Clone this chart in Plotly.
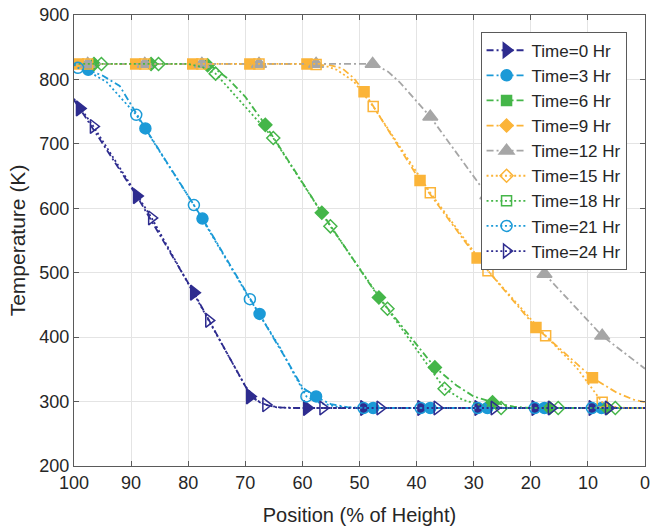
import plotly.graph_objects as go

# ---- temperature profiles along the bed (position in % of height, temperature in K) ----
# *_line_x / *_line_T : points tracing each profile curve
# *_mark_x / *_mark_T : the symbol positions on each curve
labels = ["Time=0 Hr", "Time=3 Hr", "Time=6 Hr", "Time=9 Hr", "Time=12 Hr",
          "Time=15 Hr", "Time=18 Hr", "Time=21 Hr", "Time=24 Hr"]

t0_line_x = [100, 99, 89, 79, 74, 71, 69, 67.5, 66, 64, 61, 0]
t0_line_T = [768, 755, 619, 469, 388, 339, 308, 299, 294, 291, 290, 290]
t0_mark_x = [99, 89, 79, 69.2, 59.2, 49.2, 39.2, 29.2, 19.2, 9.2]
t0_mark_T = [755, 619, 469, 308, 290, 290, 290, 290, 290, 290]

t3_line_x = [100, 97.5, 95, 92, 87.5, 77.5, 67.5, 63, 60, 57.6, 55, 52, 48, 0]
t3_line_T = [823, 815, 806, 790, 724, 584, 436, 368, 322, 307, 296, 291, 290, 290]
t3_mark_x = [97.5, 87.5, 77.5, 67.5, 57.6, 47.6, 37.6, 27.6, 17.6, 7.6]
t3_mark_T = [815, 724, 584, 436, 308, 290, 290, 290, 290, 290]

t6_line_x = [100, 78, 75.5, 73, 70, 66.5, 56.6, 46.6, 36.8, 33, 30, 26.7, 23, 20, 0]
t6_line_T = [824, 824, 818, 801, 773, 729.5, 593, 461.5, 353, 325, 308, 299, 292, 290, 290]
t6_mark_x = [96.5, 86.5, 76.6, 66.5, 56.6, 46.6, 36.8, 26.7, 16.7, 6.7]
t6_mark_T = [824, 824, 822, 729.5, 593, 461.5, 353, 299, 290, 290]

t9_line_x = [100, 56, 53, 51, 49.2, 39.4, 29.4, 19.1, 9.2, 5, 2, 0]
t9_line_T = [824, 824, 817, 802, 781, 643, 523, 415, 337, 314, 303, 299]
t9_mark_x = [99.2, 89.2, 79.2, 69.2, 59.2, 49.2, 39.4, 29.4, 19.1, 9.2]
t9_mark_T = [824, 824, 824, 824, 824, 781, 643, 523, 415, 337]

t12_line_x = [100, 47.5, 45, 43, 41.7, 37.6, 27.6, 17.6, 7.5, 0]
t12_line_T = [824, 824, 812, 796, 783, 742, 620, 498, 402, 351]
t12_mark_x = [97.6, 87.6, 77.6, 67.6, 57.6, 47.7, 37.6, 27.6, 17.6, 7.5]
t12_mark_T = [824, 824, 824, 824, 824, 824, 742, 620, 498, 402]

t15_line_x = [100, 57, 54, 51, 47.6, 37.6, 27.5, 17.4, 12, 9.5, 7.5, 5.5, 3, 0]
t15_line_T = [824, 824, 815, 797, 758, 624, 503, 402, 353, 322, 299, 292, 290, 290]
t15_mark_x = [97.6, 87.6, 77.6, 67.6, 57.6, 47.6, 37.6, 27.5, 17.4, 7.5]
t15_mark_T = [824, 824, 824, 824, 823, 758, 624, 503, 402, 299]

t18_line_x = [100, 80, 77.5, 75.2, 65.1, 55.1, 45.1, 40, 35.1, 32, 29, 26, 23, 0]
t18_line_T = [824, 824, 819, 809, 709, 572, 444, 380, 320, 303, 295, 291, 290, 290]
t18_mark_x = [95.2, 85.2, 75.2, 65.1, 55.1, 45.1, 35.1, 25.2, 15.2, 5.2]
t18_mark_T = [824, 824, 809, 709, 572, 444, 320, 290, 290, 290]

t21_line_x = [100, 99.3, 97, 94.3, 89.1, 79, 69.2, 64, 61, 59.3, 57, 54, 50, 0]
t21_line_T = [823, 818, 810, 796, 745, 605, 459, 385, 335, 308, 298, 292, 290, 290]
t21_mark_x = [99.3, 89.1, 79, 69.2, 59.3, 49.3, 39.3, 29.3, 19.3, 9.3]
t21_mark_T = [818, 745, 605, 459, 308, 290, 290, 290, 290, 290]

t24_line_x = [100, 96.6, 86.4, 76.4, 72, 70, 68, 66.4, 64.5, 62, 0]
t24_line_T = [770, 727, 585, 426, 355, 324, 302, 295, 291, 290, 290]
t24_mark_x = [96.6, 86.4, 76.4, 66.4, 56.4, 46.4, 36.4, 26.4, 16.4, 6.4]
t24_mark_T = [727, 585, 426, 295, 290, 290, 290, 290, 290, 290]

x_ticks = [100, 90, 80, 70, 60, 50, 40, 30, 20, 10, 0]
y_ticks = [200, 300, 400, 500, 600, 700, 800, 900]

# ---- styling ----
NAVY, CYAN, GREEN, YELLOW, GRAY = "#2E2C8F", "#1B9AD7", "#45B649", "#FBB438", "#A6A6A6"
DASHDOT = "7px,3px,2px,3px"
DOT = "2px,2.6px"

series = [
    # (line x, line T, mark x, mark T, colour, dash, symbol on curve, symbol in legend, size)
    (t0_line_x, t0_line_T, t0_mark_x, t0_mark_T, NAVY, DASHDOT, "triangle-right", "triangle-right", 13),
    (t3_line_x, t3_line_T, t3_mark_x, t3_mark_T, CYAN, DASHDOT, "circle", "circle", 11),
    (t6_line_x, t6_line_T, t6_mark_x, t6_mark_T, GREEN, DASHDOT, "diamond", "square", 10),
    (t9_line_x, t9_line_T, t9_mark_x, t9_mark_T, YELLOW, DASHDOT, "square", "diamond", 10),
    (t12_line_x, t12_line_T, t12_mark_x, t12_mark_T, GRAY, DASHDOT, "triangle-up", "triangle-up", 13),
    (t15_line_x, t15_line_T, t15_mark_x, t15_mark_T, YELLOW, DOT, "square-open", "diamond-open", 10),
    (t18_line_x, t18_line_T, t18_mark_x, t18_mark_T, GREEN, DOT, "diamond-open", "square-open", 10),
    (t21_line_x, t21_line_T, t21_mark_x, t21_mark_T, CYAN, DOT, "circle-open", "circle-open", 11),
    (t24_line_x, t24_line_T, t24_mark_x, t24_mark_T, NAVY, DOT, "triangle-right-open", "triangle-right-open", 12),
]

fig = go.Figure()
for name, (lx, lT, mx, mT, col, dash, sym, leg_sym, size) in zip(labels, series):
    fig.add_trace(go.Scatter(x=lx, y=lT, mode="lines", showlegend=False, hoverinfo="skip",
                             line=dict(color=col, width=1.8, dash=dash)))
    fig.add_trace(go.Scatter(x=mx, y=mT, mode="markers", showlegend=False, name=name,
                             marker=dict(color=col, symbol=sym, size=size,
                                         line=dict(color=col, width=1.5))))
    # legend entry (line + symbol)
    fig.add_trace(go.Scatter(x=[None], y=[None], mode="lines+markers", name=name,
                             line=dict(color=col, width=1.8, dash=dash),
                             marker=dict(color=col, symbol=leg_sym, size=size,
                                         line=dict(color=col, width=1.5))))

FONT = "Liberation Sans, Arial, sans-serif"
axis_common = dict(
    showline=True, linecolor="#5a5a5a", linewidth=1, mirror="ticks",
    ticks="inside", ticklen=5, tickcolor="#5a5a5a",
    showgrid=True, gridcolor="#E4E4E4", gridwidth=1, zeroline=False,
    tickfont=dict(family=FONT, size=18, color="#262626"),
)
fig.update_xaxes(range=[100, 0], tickvals=x_ticks, **axis_common,
                 title=dict(text="Position (% of Height)", standoff=16,
                            font=dict(family=FONT, size=20, color="#262626")))
fig.update_yaxes(range=[200, 900], tickvals=y_ticks, **axis_common,
                 title=dict(text="Temperature (K)", standoff=8,
                            font=dict(family=FONT, size=21, color="#262626")))

fig.update_layout(
    width=655, height=531,
    margin=dict(l=74, r=5, t=13, b=65),
    paper_bgcolor="white", plot_bgcolor="white",
    font=dict(family=FONT, color="#262626"),
    legend=dict(x=0.712, y=0.963, xanchor="left", yanchor="top",
                bgcolor="white", bordercolor="#5a5a5a", borderwidth=1,
                font=dict(family=FONT, size=17, color="#262626"),
                itemwidth=40, tracegroupgap=0),
)

fig.write_html("out.html")
